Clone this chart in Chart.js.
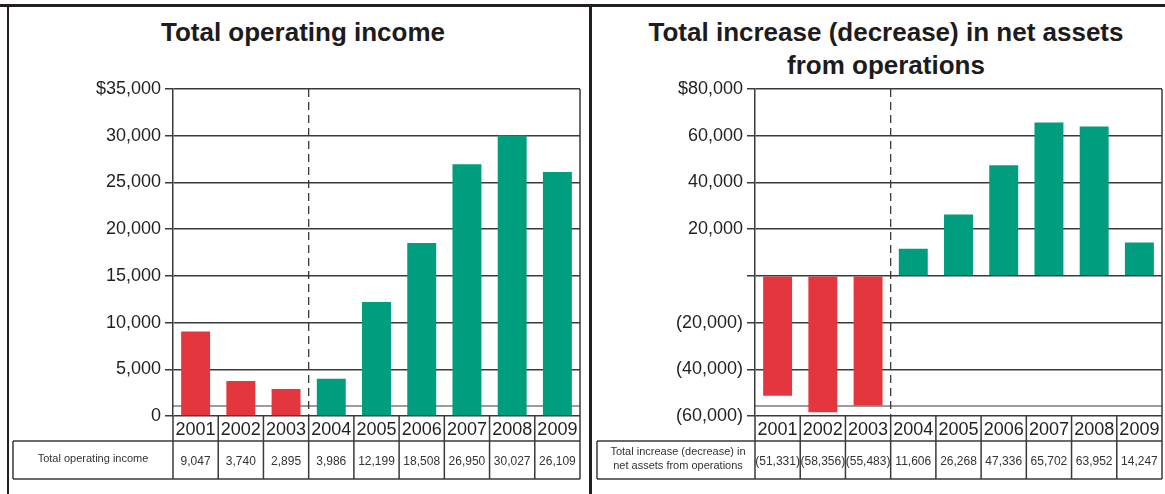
<!DOCTYPE html>
<html lang="en">
<head>
  <meta charset="UTF-8">
  <title>Total operating income / Total increase (decrease) in net assets</title>
  <script src="https://cdn.jsdelivr.net/npm/chart.js"></script>
  <style>
    body {
      margin: 0;
      padding: 0;
      background: #fff;
      font-family: "Liberation Sans", Arial, Helvetica, sans-serif;
    }

    .page {
      position: relative;
      width: 1165px;
      height: 494px;
      overflow: hidden;
    }

    .rule {
      position: absolute;
      background: #231f20;
    }

    .title {
      position: absolute;
      font-weight: bold;
      font-size: 26px;
      color: #1d1b1c;
      text-align: center;
      line-height: 33px;
    }

    canvas {
      position: absolute;
      top: 7px;
    }
  </style>
</head>

<body>
  <div class="page">
    <!-- frame -->
    <div class="rule" style="left:0; top:4px; width:1165px; height:3px;"></div>
    <div class="rule" style="left:7px; top:4px; width:2px; height:490px;"></div>
    <div class="rule" style="left:589px; top:4px; width:3px; height:490px;"></div>

    <div class="title" style="left:9px; width:588px; top:16px;">Total operating income</div>
    <div class="title" style="left:592px; width:588px; top:16px;">Total increase (decrease) in net assets<br>from operations</div>

    <canvas id="incomeChart" width="578" height="487" style="left:10px;"></canvas>
    <canvas id="netChart" width="573" height="487" style="left:592px;"></canvas>
  </div>

  <script>
    // Data
    const years = ['2001', '2002', '2003', '2004', '2005', '2006', '2007', '2008', '2009'];
    const operatingIncome = [9047, 3740, 2895, 3986, 12199, 18508, 26950, 30027, 26109];
    const netAssetChange = [-51331, -58356, -55483, 11606, 26268, 47336, 65702, 63952, 14247];

    const incomeTickValues = [0, 5000, 10000, 15000, 20000, 25000, 30000, 35000];
    const incomeTickLabels = ['0', '5,000', '10,000', '15,000', '20,000', '25,000', '30,000', '$35,000'];
    const netTickValues = [-60000, -40000, -20000, 0, 20000, 40000, 60000, 80000];
    const netTickLabels = ['(60,000)', '(40,000)', '(20,000)', '', '20,000', '40,000', '60,000', '$80,000'];

    const incomeRowLabel = ['Total operating income'];
    const netRowLabel = ['Total increase (decrease) in', 'net assets from operations'];

    // first three years are drawn in red
    const redCount = 3;

    const RED = '#e4363e';
    const GREEN = '#009d7e';
    const LINE = '#3a3a3a';
    const FONT = '"Liberation Sans", Arial, Helvetica, sans-serif';

    function fmt(v) {
      const s = Math.abs(v).toLocaleString('en-US');
      return v < 0 ? '(' + s + ')' : s;
    }

    // draws the dashed divider, plot border and the data table under the axis
    const tablePlugin = {
      id: 'dataTable',
      beforeDatasetsDraw(chart) {
        const { ctx, chartArea: { left, right, top, bottom }, scales: { x } } = chart;
        const mid = (x.getPixelForValue(redCount - 1) + x.getPixelForValue(redCount)) / 2;
        ctx.save();
        // second line just above the axis (as in the original artwork)
        ctx.strokeStyle = LINE;
        ctx.lineWidth = 1.2;
        ctx.beginPath();
        ctx.moveTo(left, bottom - 10);
        ctx.lineTo(right, bottom - 10);
        ctx.stroke();
        // dashed divider
        ctx.lineWidth = 1.3;
        ctx.setLineDash([8, 5]);
        ctx.beginPath();
        ctx.moveTo(mid, top);
        ctx.lineTo(mid, bottom);
        ctx.stroke();
        ctx.restore();
      },
      afterDraw(chart, args, opts) {
        const { ctx, chartArea: { left, right, top, bottom }, scales: { x } } = chart;
        const step = x.getPixelForValue(1) - x.getPixelForValue(0);
        const rowTop = x.bottom;
        const rowBottom = rowTop + 38;
        ctx.save();
        ctx.strokeStyle = LINE;
        ctx.lineWidth = 1.5;

        // plot right border
        ctx.beginPath();
        ctx.moveTo(right, top);
        ctx.lineTo(right, bottom);
        ctx.stroke();

        // year separators running through both rows
        ctx.beginPath();
        for (let i = 0; i <= years.length; i++) {
          const px = x.getPixelForValue(i) - step / 2;
          ctx.moveTo(px, bottom);
          ctx.lineTo(px, rowBottom);
        }
        // table box
        ctx.moveTo(opts.left, rowTop);
        ctx.lineTo(right, rowTop);
        ctx.moveTo(opts.left, rowBottom);
        ctx.lineTo(right, rowBottom);
        ctx.moveTo(opts.left, rowTop);
        ctx.lineTo(opts.left, rowBottom);
        ctx.stroke();

        // row label
        ctx.fillStyle = '#333';
        ctx.textAlign = 'center';
        ctx.textBaseline = 'middle';
        ctx.font = '11px ' + FONT;
        const labelX = (opts.left + left) / 2;
        const lh = 14;
        const y0 = (rowTop + rowBottom) / 2 - (opts.label.length - 1) * lh / 2 - 1;
        opts.label.forEach((t, i) => ctx.fillText(t, labelX + opts.labelShift, y0 + i * lh));

        // values
        ctx.font = '12px ' + FONT;
        chart.data.datasets[0].data.forEach((v, i) => {
          ctx.fillText(fmt(v), x.getPixelForValue(i), (rowTop + rowBottom) / 2 + 2);
        });
        ctx.restore();
      }
    };

    function makeChart(id, values, tickValues, tickLabels, rowLabel, tableLeft, labelShift, padRight) {
      const min = tickValues[0];
      const max = tickValues[tickValues.length - 1];
      return new Chart(document.getElementById(id), {
        type: 'bar',
        data: {
          labels: years,
          datasets: [{
            data: values,
            backgroundColor: years.map((y, i) => i < redCount ? RED : GREEN),
            barPercentage: 0.64,
            categoryPercentage: 1
          }]
        },
        options: {
          responsive: false,
          animation: false,
          layout: { padding: { top: 82, left: 0, right: padRight, bottom: 53 } },
          plugins: {
            legend: { display: false },
            tooltip: { enabled: false },
            dataTable: { left: tableLeft, label: rowLabel, labelShift: labelShift }
          },
          scales: {
            x: {
              grid: { display: false },
              border: { display: false },
              ticks: {
                color: '#231f20',
                font: { family: FONT, size: 18 },
                padding: -5,
                maxRotation: 0,
                autoSkip: false
              },
              afterFit(scale) { scale.height = 25; }
            },
            y: {
              min: min,
              max: max,
              afterBuildTicks(scale) {
                scale.ticks = tickValues.map(v => ({ value: v }));
              },
              grid: { color: LINE, lineWidth: 1.5, tickLength: 8 },
              border: { color: LINE, width: 1.5 },
              ticks: {
                color: '#231f20',
                font: { family: FONT, size: 18 },
                padding: 4,
                callback: (v) => tickLabels[tickValues.indexOf(v)]
              },
              afterFit(scale) { scale.width = 163; }
            }
          }
        },
        plugins: [tablePlugin]
      });
    }

    makeChart('incomeChart', operatingIncome, incomeTickValues, incomeTickLabels, incomeRowLabel, 3, 0, 8);
    makeChart('netChart', netAssetChange, netTickValues, netTickLabels, netRowLabel, 5, 2, 3);
  </script>
</body>
</html>
